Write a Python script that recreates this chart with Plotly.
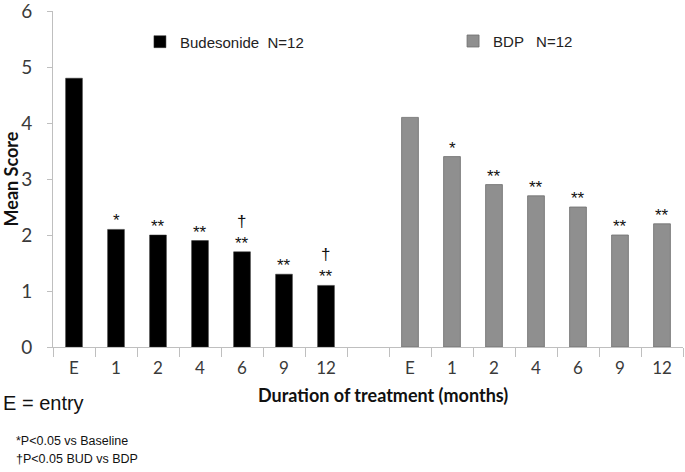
import plotly.graph_objects as go

timepoints = ["E", "1", "2", "4", "6", "9", "12"]
bud_values = [4.8, 2.1, 2.0, 1.9, 1.7, 1.3, 1.1]
bdp_values = [4.1, 3.4, 2.9, 2.7, 2.5, 2.0, 2.2]
bud_sig = ["", "*", "**", "**", "†<br>**", "**", "†<br>**"]
bdp_sig = ["", "*", "**", "**", "**", "**", "**"]
y_ticks = [0, 1, 2, 3, 4, 5, 6]

bud_x = list(range(len(timepoints)))
bdp_x = [i + len(timepoints) + 1 for i in range(len(timepoints))]

fig = go.Figure()
fig.add_trace(go.Bar(x=bud_x, y=bud_values, name="Budesonide  N=12",
                     marker=dict(color="#000000", line=dict(color="#333333", width=0.5)),
                     width=0.4, legend="legend"))
fig.add_trace(go.Bar(x=bdp_x, y=bdp_values, name="BDP   N=12",
                     marker=dict(color="#8f8f8f", line=dict(color="#6f6f6f", width=0.8)),
                     width=0.4, legend="legend2"))

for xs, ys, sigs in [(bud_x, bud_values, bud_sig), (bdp_x, bdp_values, bdp_sig)]:
    for x, y, s in zip(xs, ys, sigs):
        if s:
            fig.add_annotation(x=x, y=y, text=s, showarrow=False, yanchor="bottom",
                               yshift=-3, font=dict(family="Arial", size=17, color="#111111"))

fig.update_layout(
    width=685, height=472,
    margin=dict(l=53, r=2, t=11, b=125),
    paper_bgcolor="white", plot_bgcolor="white",
    showlegend=True,
    legend=dict(x=0.138, y=0.908, xanchor="left", yanchor="middle", bgcolor="rgba(0,0,0,0)",
                font=dict(family="Arial", size=15, color="#222222")),
    legend2=dict(x=0.635, y=0.91, xanchor="left", yanchor="middle", bgcolor="rgba(0,0,0,0)",
                 font=dict(family="Arial", size=15, color="#222222")),
    xaxis=dict(range=[-0.5, 14.5], tickmode="array", automargin=False,
               tickvals=bud_x + bdp_x, ticktext=timepoints + timepoints,
               ticks="", showline=True, linecolor="#bfbfbf", linewidth=1,
               showgrid=False, zeroline=False,
               tickfont=dict(family="Lato", size=17, color="#3a3a3a"),
               ticklabelstandoff=6,
               minor=dict(tick0=-0.5, dtick=1, ticks="outside", ticklen=9,
                          tickcolor="#bfbfbf", showgrid=False)),
    yaxis=dict(range=[0, 6], tickmode="array", tickvals=y_ticks,
               ticks="outside", ticklen=5, tickcolor="#bfbfbf",
               showline=True, linecolor="#bfbfbf", linewidth=1, showgrid=False, zeroline=False,
               automargin=False, ticklabeloverflow="allow",
               tickfont=dict(family="Lato", size=19, color="#3a3a3a"),
               ticklabelstandoff=11,
               title=dict(text="<b>Mean Score</b>",
                          font=dict(family="Lato", size=18, color="#111111"))),
)

fig.add_annotation(xref="paper", yref="paper", x=0.524, y=-0.143, xanchor="center", yanchor="middle",
                   text="<b>Duration of treatment (months)</b>", showarrow=False,
                   font=dict(family="Lato", size=18, color="#111111"))
fig.add_annotation(xref="paper", yref="paper", x=-0.083, y=-0.167, xanchor="left", yanchor="middle",
                   text="E = entry", showarrow=False,
                   font=dict(family="Liberation Sans Narrow, Arial", size=20, color="#111111"))
fig.add_annotation(xref="paper", yref="paper", x=-0.062, y=-0.28, xanchor="left", yanchor="middle",
                   text="*P<0.05 vs Baseline", showarrow=False,
                   font=dict(family="Liberation Sans Narrow, Arial", size=12.5, color="#111111"))
fig.add_annotation(xref="paper", yref="paper", x=-0.062, y=-0.333, xanchor="left", yanchor="middle",
                   text="†P<0.05 BUD vs BDP", showarrow=False,
                   font=dict(family="Liberation Sans Narrow, Arial", size=12.5, color="#111111"))

fig.write_html("out.html", config={"displayModeBar": False},
               post_script="document.body.style.margin='0';document.body.style.padding='0';")
